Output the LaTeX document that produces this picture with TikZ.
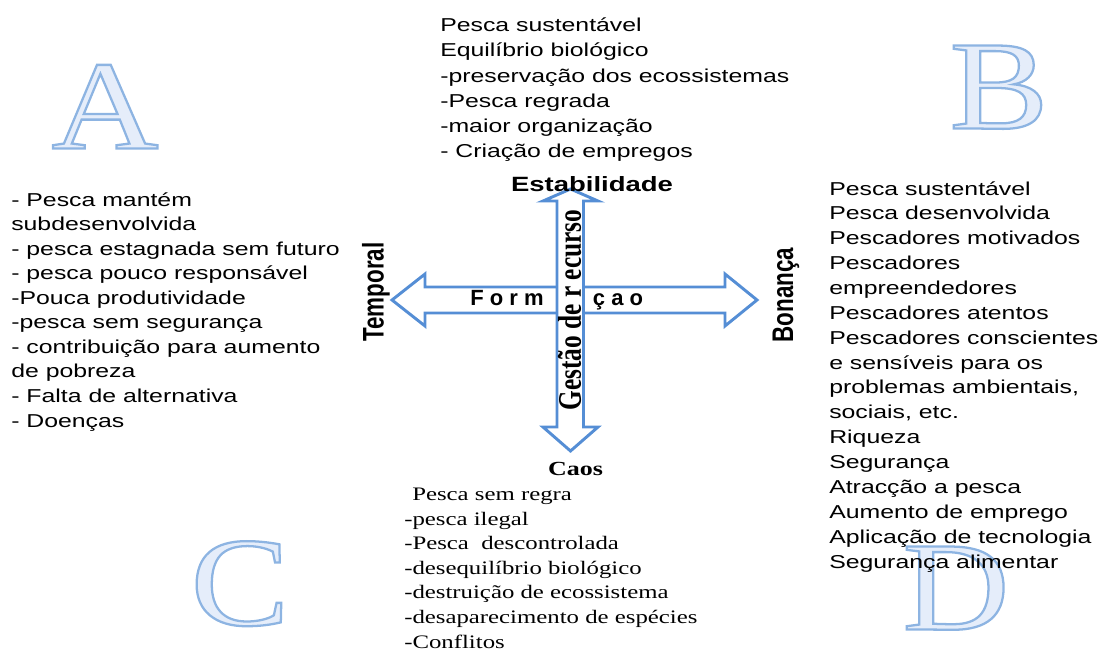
\documentclass[tikz,border=0pt]{standalone}
\usepackage{fontspec}
\setmainfont{Liberation Serif}
\newfontfamily\sansx[FakeStretch=1.33]{Liberation Sans}
\newfontfamily\sansplain{Liberation Sans}
\newfontfamily\serifx[FakeStretch=1.3]{Liberation Serif}
\newfontfamily\serifplain{Liberation Serif}
\newfontfamily\letterfont[FakeStretch=1.17]{Liberation Serif}
\definecolor{arrowblue}{RGB}{85,142,213}
\definecolor{letterline}{RGB}{141,180,226}
% outlined glyph: stroke in letterline, fill in a very pale blue
\newcommand\bigglyph[1]{{\color{letterline}\special{pdf:code 0.90 0.93 0.98 rg 2 Tr 1.7 w}#1\special{pdf:code 0 Tr}}}
\tikzset{
  arrowline/.style={draw=arrowblue, line width=2.2pt, fill=white, line join=miter},
  bigletter/.style={anchor=base, inner sep=0pt, font=\letterfont\fontsize{95}{95}\selectfont},
  sansblock/.style={anchor=base west, inner sep=0pt, align=left},
  serifblock/.style={anchor=base west, inner sep=0pt, align=left},
  axislabel/.style={inner sep=0pt, anchor=center}
}
\begin{document}
\begin{tikzpicture}[x=0.75pt,y=-0.75pt]
\useasboundingbox (0,0) rectangle (1106,650);

% big letters
\node[bigletter] (A) at (105,148.5) {\bigglyph{A}};
\node[bigletter] (B) at (999,128.5) {\bigglyph{B}};
\node[bigletter] (C) at (240,625) {\bigglyph{C}};
\node[bigletter] (D) at (956,629.5) {\bigglyph{D}};

% horizontal double arrow
\draw[arrowline] (392,300) -- (425,274) -- (425,287) -- (725,287) -- (725,274)
  -- (757,300) -- (725,326) -- (725,313) -- (425,313) -- (425,326) -- cycle;

% Formacao text
\node[sansblock, font=\sansplain\bfseries\fontsize{16.5}{16.5}\selectfont] (form) at (470,305)
  {F o r m\hspace{37pt}ç a o};

% vertical double arrow
\draw[arrowline] (570.5,189) -- (598,201) -- (583.5,201) -- (583.5,427) -- (598,427)
  -- (570.5,451) -- (543,427) -- (557,427) -- (557,201) -- (543,201) -- cycle;

% axis labels
\node[axislabel, font=\sansx\bfseries\fontsize{15.5}{15.5}\selectfont] (estab) at (592,184) {Estabilidade};
\node[axislabel, font=\serifx\bfseries\fontsize{15}{15}\selectfont] (caos) at (575.5,469) {Caos};
\node[axislabel, rotate=90] (temporal) at (376,292)
  {\scalebox{1}[1.33]{\sansplain\bfseries\fontsize{16.8}{16.8}\selectfont Temporal}};
\node[axislabel, rotate=90] (bonanca) at (786,295)
  {\scalebox{1}[1.33]{\sansplain\bfseries\fontsize{16.8}{16.8}\selectfont Bonança}};
\node[axislabel, rotate=90] (gestao) at (569.5,310)
  {\scalebox{1}[1.3]{\serifplain\bfseries\fontsize{19}{19}\selectfont Gestão de r ecurso}};

% text blocks (anchor at the baseline of the last line)
\node[sansblock, font=\sansx\fontsize{14}{18.9}\selectfont] (top) at (440,157.7)
  {Pesca sustentável\\Equilíbrio biológico\\-preservação dos ecossistemas\\-Pesca regrada\\-maior organização\\- Criação de empregos};

\node[sansblock, font=\sansx\fontsize{14}{18.4}\selectfont] (left) at (11,427)
  {- Pesca mantém\\subdesenvolvida\\- pesca estagnada sem futuro\\- pesca pouco responsável\\-Pouca produtividade\\-pesca sem segurança\\- contribuição para aumento\\de pobreza\\- Falta de alternativa\\- Doenças};

\node[sansblock, font=\sansx\fontsize{14}{18.65}\selectfont] (right) at (829,568)
  {Pesca sustentável\\Pesca desenvolvida\\Pescadores motivados\\Pescadores\\empreendedores\\Pescadores atentos\\Pescadores conscientes\\e sensíveis para os\\problemas ambientais,\\sociais, etc.\\Riqueza\\Segurança\\Atracção a pesca\\Aumento de emprego\\Aplicação de tecnologia\\Segurança alimentar};

\node[serifblock, font=\serifx\fontsize{14.3}{18.4}\selectfont] (bottom) at (404,648)
  {\hspace*{6pt}Pesca sem regra\\-pesca ilegal\\-Pesca\ \ descontrolada\\-desequilíbrio biológico\\-destruição de ecossistema\\-desaparecimento de espécies\\-Conflitos};
\end{tikzpicture}
\end{document}
